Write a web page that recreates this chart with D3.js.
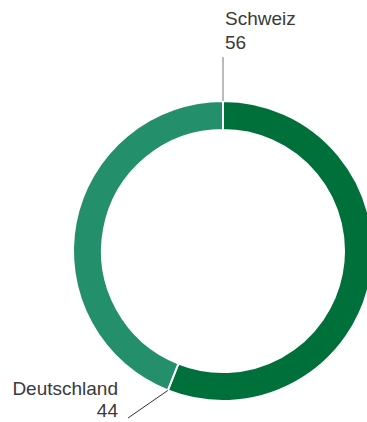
<!DOCTYPE html>
<html>
<head>
<meta charset="utf-8">
<script src="https://cdn.jsdelivr.net/npm/d3@7"></script>
<style>
  html, body { margin: 0; padding: 0; background: #fff; overflow: hidden; }
  svg { display: block; }
  text { font-family: "Liberation Sans", Arial, Helvetica, sans-serif; fill: #3a3a3a; }
</style>
</head>
<body>
<svg id="chart" width="367" height="422"></svg>
<script>
// Shares by country (percent)
const categories = ["Schweiz", "Deutschland"];
const values = [56, 44];
const colors = ["#00703b", "#23906b"];

const svg = d3.select("#chart");
const cx = 223, cy = 251;
const outerR = 150, innerR = 121;

const pie = d3.pie().sort(null).value(d => d)(values);
const arc = d3.arc().innerRadius(innerR).outerRadius(outerR);

const g = svg.append("g").attr("transform", `translate(${cx},${cy})`);

g.selectAll("path.slice")
  .data(pie)
  .join("path")
  .attr("class", "slice")
  .attr("d", arc)
  .attr("fill", (d, i) => colors[i])
  .attr("stroke", "#fff")
  .attr("stroke-width", 2);

// point on a circle of radius r at pie angle a (0 = top, clockwise)
const polar = (a, r) => [r * Math.sin(a), -r * Math.cos(a)];

// Schweiz: leader line up from the start of the first slice
const [sx0, sy0] = polar(pie[0].startAngle, outerR);
g.append("line")
  .attr("x1", sx0).attr("y1", sy0)
  .attr("x2", sx0).attr("y2", sy0 - 44)
  .attr("stroke", "#777").attr("stroke-width", 1);

const labelTop = svg.append("text")
  .attr("font-size", 19);
labelTop.append("tspan").attr("x", cx + 2).attr("y", 25).text(categories[0]);
labelTop.append("tspan").attr("x", cx + 2).attr("y", 49).text(values[0]);

// Deutschland: leader line from the boundary between the slices
const [dx0, dy0] = polar(pie[1].startAngle, outerR);
g.append("line")
  .attr("x1", dx0).attr("y1", dy0)
  .attr("x2", 128 - cx).attr("y2", 418 - cy)
  .attr("stroke", "#333").attr("stroke-width", 1);

const labelBottom = svg.append("text")
  .attr("text-anchor", "end")
  .attr("font-size", 19);
labelBottom.append("tspan").attr("x", 118).attr("y", 395).text(categories[1]);
labelBottom.append("tspan").attr("x", 118).attr("y", 417).text(values[1]);
</script>
</body>
</html>
